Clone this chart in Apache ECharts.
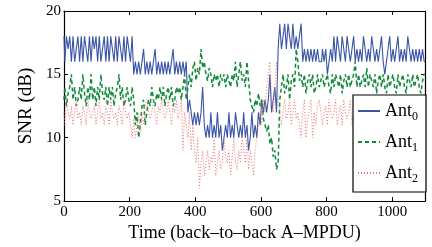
<!DOCTYPE html>
<html><head><meta charset="utf-8">
<script src="https://cdn.jsdelivr.net/npm/echarts@6/dist/echarts.min.js"></script>
<style>html,body{margin:0;padding:0;background:#fff}#c{width:432px;height:247px}</style>
</head><body><div id="c"></div>
<script>
// sampling step along the time axis (A-MPDU index)
const STEP = 5;
const seriesNames = ['Ant0', 'Ant1', 'Ant2'];
const xTicks = [0, 200, 400, 600, 800, 1000];
const yTicks = [5, 10, 15, 20];

// SNR (dB) of antenna 0, one value every STEP
const ant0 = [
 18,16,18,17,18,16,18,16,17,18,16,18,16,18,17,16,18,16,18,17,
 18,16,18,16,17,18,16,18,16,18,17,16,18,16,18,17,16,18,16,18,
 17,16,18,15,16,15,16,15,16,17,15,16,15,16,15,16,17,15,16,15,
 16,15,16,15,16,15,16,17,15,16,15,16,15,16,15,16,12,13,12,11,
 12,11,12,11,12,14,11,10,11,10,12,10,11,10,12,10,11,9,10,11,
 10,12,10,11,10,12,11,10,11,10,12,10,11,9,10,12,10,11,10,12,
 11,13,12,13,12,13,15,12,13,14,12,17,19,17,18,19,17,19,18,17,
 19,17,18,17,18,19,16,17,16,17,16,17,16,17,16,17,16,16,17,16,
 17,15,16,17,16,18,16,18,17,16,18,17,16,18,17,16,17,18,16,17,
 16,17,16,18,17,16,17,16,18,17,16,17,16,17,18,16,15,16,17,18,
 16,17,16,17,18,16,17,16,17,16,18,17,16,17,16,17,16,17,16,17,16
];
// SNR (dB) of antenna 1
const ant1 = [
 13,14,12.5,13.5,14,15,13,14,12.5,13,14,13,15,13.5,12.5,14,13,15,13,14,
 12.5,14,13,15,13.5,13,14,12.5,14,13,14,12.5,13.5,14,15,13,14,12.5,13,14,
 13,12.5,14,13,11,12,10,11,12.5,13,11,12,13,12.5,14,13,12.5,13.5,13,14,
 13,14,12.5,13.5,14,13,14,12.5,13,14,13.5,14,13,14,15,13,14,15,14,15.5,
 16,14.5,15.5,15,17,15.5,16,15,14.5,15.5,15,14,15,14.5,15,14,15,14.5,15,14,
 15,14.5,14,15,14.5,16,14,15,16,14.5,15,14,16,14.5,13,12.5,12,13,12.5,13.5,
 12.5,13,11.5,11,10.5,11,9.5,10,8.5,9,7.5,8,13,14,15,13.5,14,15,13,14.5,
 15,14,17,16,14.5,15,14,15,13.5,14.5,15,14,15,13.5,14,15,14,14.5,15,14,
 14.5,15,14,13.5,15,14,15,14.5,14,15,13.5,14.5,15,14,15,14,14.5,15,16,14,
 15,14,14.5,15,14,15.5,14,15,14.5,14,15,13.5,14.5,15,14,15,14,13.5,15,14,
 14.5,15,14,13.5,15,14,14.5,15,14,13.5,15,14.5,14,15,14,14.5,15,14,13.5,14.5,15
];
// SNR (dB) of antenna 2
const ant2 = [
 12,11,13,12,11.5,12.5,11,12,13,11.5,12,11,12.5,12,11,13,12,11.5,12,12.5,
 11,12,13,11.5,12,11,12.5,12,11,13,12,11.5,12,11,12.5,12,11,13,12,11.5,
 12,11,10,11.5,10,11,12,10.5,12,11,12.5,13,12,11.5,12,13,12,11,12.5,12,
 13,12,11.5,12,13,12,11,12.5,12,13,11.5,12,13,9,12,11,10,12,9,11,
 9,8,10,6,8,9,7,8,9,7.5,8.5,8,10,7,8,9,7.5,8,10,8.5,
 8,9,7,8.5,10,8,7.5,9,8,10,9,8,10,7.5,9,8,7,9,10,11,
 12,11,13,12,14,15,16,13,12,14,16,13,12,11,12,13,11.5,12,13,11,
 12,13,11.5,12,11,10,12,13,10,11.5,12,13,10,12,11,12.5,13,12,11,12,
 12.5,11,13,12,11.5,12,13,11,12,12.5,11,13,12,11.5,12,13,11,12,12.5,11,
 12,13,11.5,12,13,11,12,12.5,11,13,12,11.5,12,13,11,12,12.5,11,13,12,
 11.5,12,13,11,12,12.5,11,13,12,11.5,12,13,11,12,12.5,11,13,12,11.5,12,13
];

const FONT = 'Liberation Serif';
function pairs(arr){ return arr.map((v,i)=>[i*STEP, v]); }

const chart = echarts.init(document.getElementById('c'), null, {renderer:'canvas'});
const axisCommon = {
  axisLine:{show:true, onZero:false, lineStyle:{color:'#000', width:1.2}},
  axisTick:{show:true, inside:true, length:4, lineStyle:{color:'#000', width:1}},
  splitLine:{show:false}
};
chart.setOption({
  animation:false,
  backgroundColor:'#fff',
  grid:{left:64, right:7, top:11, bottom:42},
  xAxis:[
    Object.assign({type:'value', min:0, max:1100, interval:200,
      axisLabel:{color:'#000', fontFamily:FONT, fontSize:15, margin:3, showMaxLabel:false,
        formatter:function(v){ return String(v); }},
      name:'Time (back\u2013to\u2013back A\u2013MPDU)', nameLocation:'middle', nameGap:22,
      nameTextStyle:{color:'#000', fontFamily:FONT, fontSize:18}}, axisCommon),
    Object.assign({type:'value', position:'top', min:0, max:1100, interval:200,
      axisLabel:{show:false}}, axisCommon)
  ],
  yAxis:[
    Object.assign({type:'value', min:5, max:20, interval:5,
      axisLabel:{color:'#000', fontFamily:FONT, fontSize:15, margin:3},
      name:'SNR (dB)', nameLocation:'middle', nameGap:24,
      nameTextStyle:{color:'#000', fontFamily:FONT, fontSize:19}}, axisCommon),
    Object.assign({type:'value', position:'right', min:5, max:20, interval:5,
      axisLabel:{show:false}}, axisCommon)
  ],
  legend:{
    orient:'vertical', left:353, top:95, itemWidth:22, itemHeight:2, itemGap:10,
    backgroundColor:'#fff', borderColor:'#000', borderWidth:1.2, borderRadius:0,
    padding:[7,8,7,4],
    itemStyle:{opacity:0},
    data:seriesNames,
    formatter:function(n){ return '{a|Ant}{s|' + n.slice(3) + '}'; },
    textStyle:{color:'#000', fontFamily:FONT,
      rich:{a:{fontSize:18, fontFamily:FONT, color:'#000', lineHeight:24},
            s:{fontSize:12, fontFamily:FONT, color:'#000', lineHeight:12, verticalAlign:'bottom'}}}
  },
  series:[
    {name:'Ant0', type:'line', step:'middle', data:pairs(ant0), showSymbol:false, symbol:'none',
     lineStyle:{color:'#3a54a6', width:1.1}, itemStyle:{color:'#3a54a6'}},
    {name:'Ant1', type:'line', step:'middle', data:pairs(ant1), showSymbol:false, symbol:'none',
     lineStyle:{color:'#118a3a', width:1.5, type:[4,3]}, itemStyle:{color:'#118a3a'}},
    {name:'Ant2', type:'line', step:'middle', data:pairs(ant2), showSymbol:false, symbol:'none',
     lineStyle:{color:'#f07070', width:1, type:[1,2]}, itemStyle:{color:'#f07070'}}
  ]
});
</script></body></html>
